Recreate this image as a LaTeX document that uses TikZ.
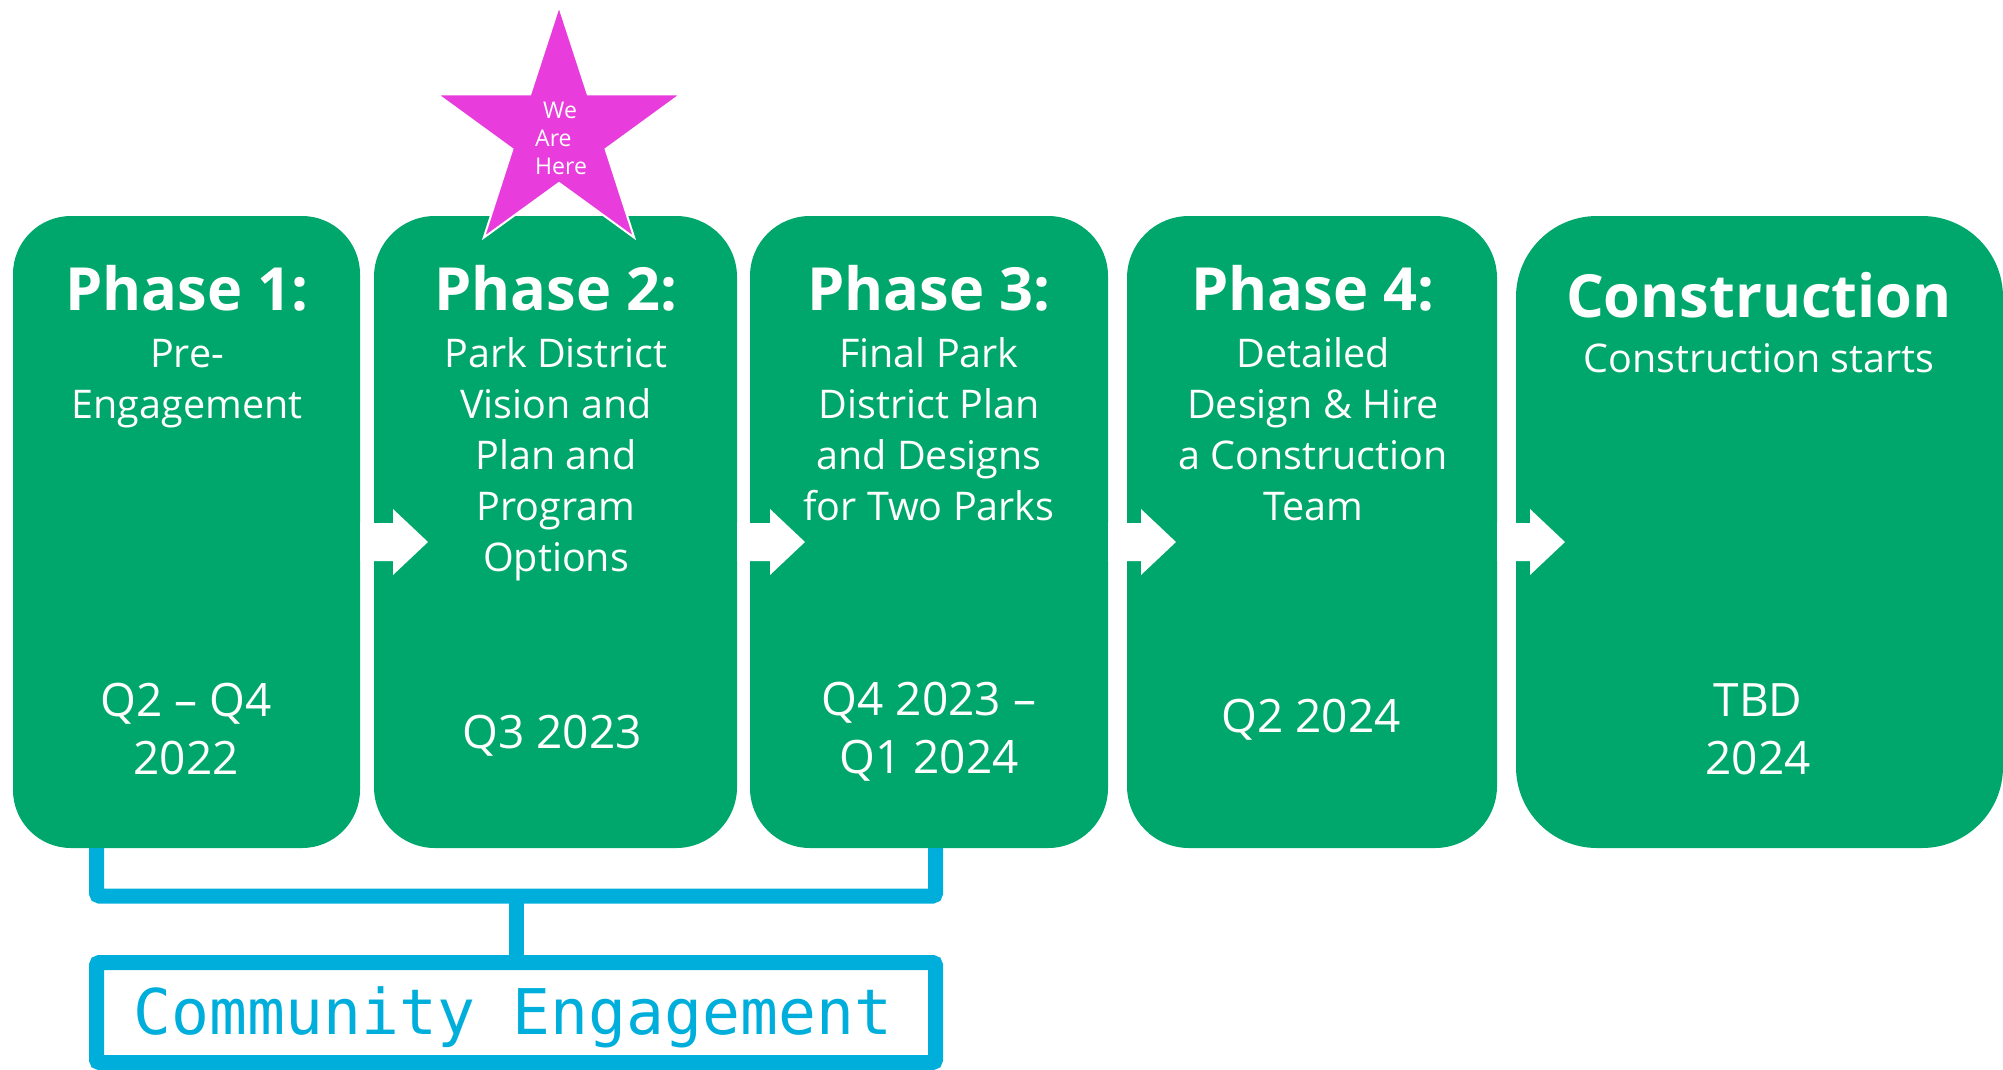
\documentclass[tikz,border=0pt]{standalone}
\usepackage{fontspec}
\setmainfont{Open Sans}
\newfontfamily\monof{DejaVu Sans Mono}
\usetikzlibrary{calc}
\definecolor{pgreen}{RGB}{0,167,108}
\definecolor{pblue}{RGB}{0,174,219}
\definecolor{pmag}{RGB}{232,60,220}
\newcommand\blockarr[1]{\fill[white] ($(#1.east)+(0,10)$) ++(0,-19) -- ++(33,0) -- ++(0,-14) -- ++(35,33) -- ++(-35,33) -- ++(0,-14) -- ++(-33,0) -- cycle;}
\begin{document}
\begin{tikzpicture}[x=1pt,y=-1pt,
  phasebox/.style={fill=pgreen, inner sep=0pt, outer sep=0pt, anchor=north west, minimum height=632pt},
  title/.style={text=white, font=\fontsize{59.5}{64}\selectfont\bfseries, align=center, inner sep=0pt},
  body/.style={text=white, font=\fontsize{39.5}{51}\selectfont, align=center, inner sep=0pt},
  date/.style={text=white, font=\fontsize{46}{58}\selectfont, align=center, inner sep=0pt},
  bline/.style={draw=pblue, line width=15pt, rounded corners=3pt}]
\useasboundingbox (0,0) rectangle (2003,1069);
% phase boxes
\node[phasebox, minimum width=347pt, rounded corners=58pt] (b1) at (13,216) {};
\node[phasebox, minimum width=363pt, rounded corners=61pt] (b2) at (374,216) {};
\node[phasebox, minimum width=358pt, rounded corners=60pt] (b3) at (750,216) {};
\node[phasebox, minimum width=370pt, rounded corners=62pt] (b4) at (1127,216) {};
\node[phasebox, minimum width=487pt, rounded corners=81pt] (b5) at (1516,216) {};
% arrows
\blockarr{b1}
\blockarr{b2}
\blockarr{b3}
\blockarr{b4}
% texts
\node[title] (t1) at (187,288) {Phase 1:};
\node[body] (d1) at (187,384) {Pre-\\Engagement};
\node[date] (q1) at (186,729) {Q2 – Q4\\2022};
\node[title] (t2) at (556,288) {Phase 2:};
\node[body] (d2) at (556,459) {Park District\\Vision and\\Plan and\\Program\\Options};
\node[date] (q2) at (552,736) {Q3 2023};
\node[title] (t3) at (929,288) {Phase 3:};
\node[body] (d3) at (929,429) {Final Park\\District Plan\\and Designs\\for Two Parks};
\node[date] (q3) at (929,732) {Q4 2023 –\\Q1 2024};
\node[title] (t4) at (1313,288) {Phase 4:};
\node[body] (d4) at (1313,429) {Detailed\\Design \& Hire\\a Construction\\Team};
\node[date] (q4) at (1311,720) {Q2 2024};
\node[title] (t5) at (1759,295) {Construction};
\node[body] (d5) at (1759,358) {Construction starts};
\node[date] (q5) at (1758,729) {TBD\\2024};
% star
\coordinate (sc) at (559,134);
\filldraw[fill=pmag, draw=white, line width=2pt, line join=miter]
  (559,6) -- (587.8,94.4) -- (680.7,94.4) -- (605.6,149.1) -- (634.2,237.6)
  -- (559,183) -- (483.8,237.6) -- (512.4,149.1) -- (437.3,94.4) -- (530.2,94.4) -- cycle;
\node[text=white, font=\fontsize{23}{28}\selectfont, align=left, anchor=west, inner sep=0pt] (star) at (535,138) {\hspace*{8pt}We\\Are\\Here};
% community engagement
\node[draw=pblue, line width=15pt, minimum width=839pt, minimum height=100pt, inner sep=0pt, outer sep=0pt, rounded corners=3pt] (ce) at (516,1012.5) {};
\node[text=pblue, font=\monof\fontsize{63}{63}\selectfont, inner sep=0pt] (cet) at (513,1017) {Community Engagement};
\coordinate (bk) at (516,896);
\draw[bline] (ce.north west |- b1.south) -- (ce.north west |- bk) -- (ce.north east |- bk) -- (ce.north east |- b3.south);
\draw[bline] (bk) -- (ce.north);
\end{tikzpicture}
\end{document}
